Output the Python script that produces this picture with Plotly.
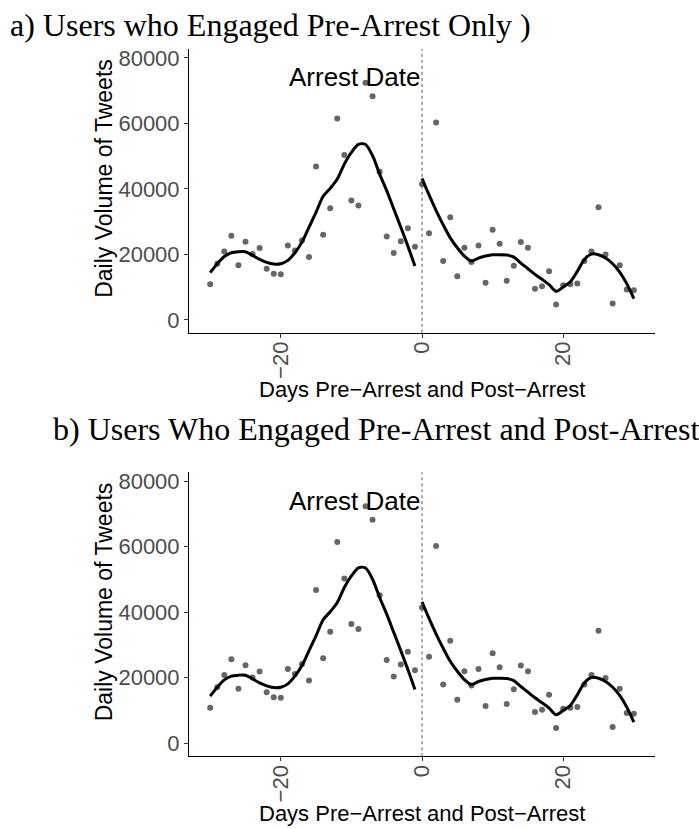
import plotly.graph_objects as go

W, H = 699, 829

# ---- data ----
days = list(range(-30, 31))
tweets = [10860, 17130, 20890, 25650, 16630, 23830, 20080, 21900, 15610, 14090,
          13890, 22710, 21190, 24240, 19160, 46840, 25960, 34070, 61440, 50290,
          36400, 34880, 72400, 68240, 45220, 25450, 20380, 24030, 27980, 22300,
          41460, 26460, 60230, 17950, 31330, 13280, 22000, 17640, 22710, 11360,
          27480, 23220, 11970, 16530, 23730, 22000, 9530, 10240, 14800, 4670,
          10540, 10850, 11060, 17950, 20890, 34370, 19970, 4970, 16630, 9230, 9020]

pre_days = list(range(-30, 0))
pre_smooth = [14400, 17130, 19360, 20490, 20800, 20800, 19670, 18450, 17540, 17030,
              17130, 18150, 20490, 23730, 28290, 32850, 37720, 40150, 42990, 47550,
              51100, 53540, 53540, 50090, 44500, 39440, 33860, 28290, 22510, 16430]
post_days = list(range(0, 31))
post_smooth = [43190, 38130, 33360, 29000, 25040, 22000, 19470, 17950, 18860, 19470,
               19870, 19870, 19770, 19160, 17340, 15610, 13890, 12370, 10750, 8720,
               10040, 11560, 14800, 18450, 20080, 19870, 18860, 17130, 14600, 11050, 6480]

y_ticks = [0, 20000, 40000, 60000, 80000]
y_tick_labels = ["0", "20000", "40000", "60000", "80000"]
x_ticks = [-20, 0, 20]
x_tick_labels = ["\u221220", "0", "20"]

titles = ["a) Users who Engaged Pre-Arrest Only )",
          "b) Users Who Engaged Pre-Arrest and Post-Arrest"]
x_title = "Days Pre\u2212Arrest and Post\u2212Arrest"
y_title = "Daily Volume of Tweets"
arrest_label = "Arrest Date"

# ---- layout geometry (pixels) ----
def px(x):
    return x / W

def py(y):
    return 1 - y / H

panels = [dict(top=46, bottom=331, title_x=8, title_y=22),
          dict(top=471, bottom=756, title_x=51, title_y=428)]
left, right = 189, 655

fig = go.Figure()
annotations = []
shapes = []
sans = "Liberation Sans, Arial, sans-serif"
serif = "Liberation Serif, Times New Roman, serif"

for i, p in enumerate(panels):
    xa = "x" if i == 0 else "x2"
    ya = "y" if i == 0 else "y2"
    fig.add_trace(go.Scatter(x=days, y=tweets, mode="markers", xaxis=xa, yaxis=ya,
                             marker=dict(color="#666666", size=6), showlegend=False))
    fig.add_trace(go.Scatter(x=pre_days, y=pre_smooth, mode="lines", xaxis=xa, yaxis=ya,
                             line=dict(color="black", width=3, shape="spline", smoothing=0.8),
                             showlegend=False))
    fig.add_trace(go.Scatter(x=post_days, y=post_smooth, mode="lines", xaxis=xa, yaxis=ya,
                             line=dict(color="black", width=3, shape="spline", smoothing=0.8),
                             showlegend=False))
    shapes.append(dict(type="line", xref=xa, yref=ya + " domain", x0=0, x1=0, y0=0, y1=1,
                       line=dict(color="#555555", width=1, dash="dot")))
    axis_common = dict(showgrid=False, zeroline=False, showline=True, linecolor="black",
                       linewidth=1, ticks="outside", ticklen=4, tickcolor="#333333",
                       tickfont=dict(family=sans, size=22, color="#4d4d4d"))
    xkey = "xaxis" if i == 0 else "xaxis2"
    ykey = "yaxis" if i == 0 else "yaxis2"
    fig.update_layout(**{
        xkey: dict(axis_common, domain=[px(left), px(right)], range=[-33, 33],
                   tickvals=x_ticks, ticktext=x_tick_labels, tickangle=-90, anchor=ya,
                   ticklabelstandoff=-5),
        ykey: dict(axis_common, domain=[py(p["bottom"]), py(p["top"])],
                   range=[-3954, 82738], tickvals=y_ticks, ticktext=y_tick_labels,
                   anchor=xa),
    })
    annotations.append(dict(text=titles[i], xref="paper", yref="paper",
                            x=px(p["title_x"]), y=py(p["title_y"]), xanchor="left",
                            yanchor="middle", showarrow=False,
                            font=dict(family=serif, size=32, color="black")))
    annotations.append(dict(text=x_title, xref="paper", yref="paper",
                            x=px((left + right) / 2), y=py(p["bottom"] + 57),
                            xanchor="center", yanchor="middle", showarrow=False,
                            font=dict(family=sans, size=22, color="black")))
    annotations.append(dict(text=y_title, xref="paper", yref="paper", textangle=-90,
                            x=px(104), y=py((p["top"] + p["bottom"]) / 2 - 12),
                            xanchor="center", yanchor="middle", showarrow=False,
                            font=dict(family=sans, size=23, color="black")))
    annotations.append(dict(text=arrest_label, xref=xa, yref=ya, x=-9.5, y=74000,
                            xanchor="center", yanchor="middle", showarrow=False,
                            font=dict(family=sans, size=26, color="black")))

fig.update_layout(width=W, height=H, margin=dict(l=0, r=0, t=0, b=0),
                  plot_bgcolor="white", paper_bgcolor="white",
                  annotations=annotations, shapes=shapes)

fig.write_html("out.html")
